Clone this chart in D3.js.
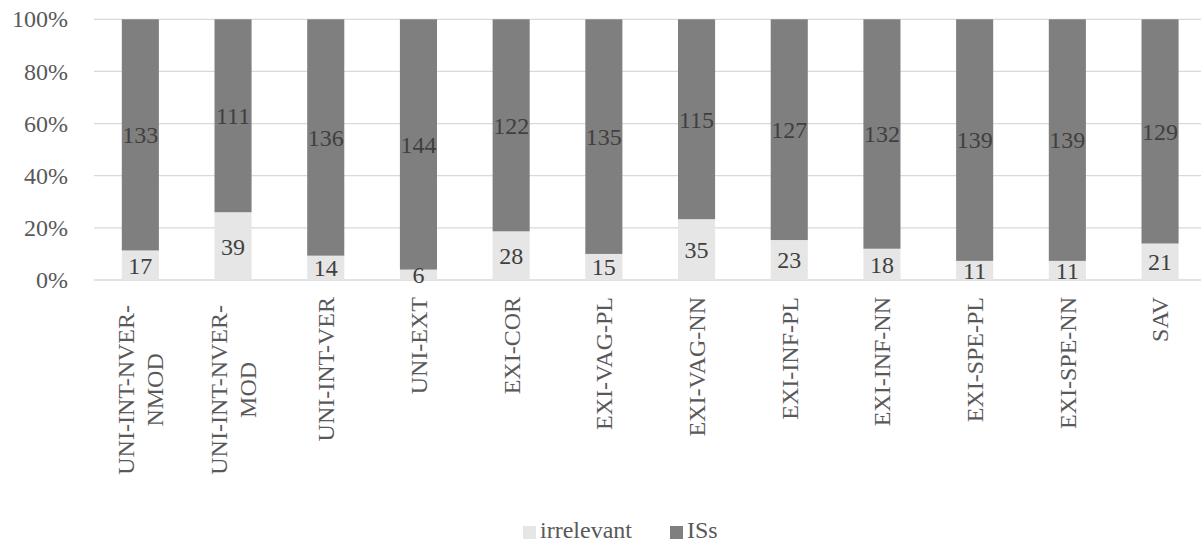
<!DOCTYPE html>
<html>
<head>
<meta charset="utf-8">
<script src="https://cdn.jsdelivr.net/npm/d3@7/dist/d3.min.js"></script>
<style>
  html, body { margin: 0; padding: 0; background: #ffffff; }
  svg, svg text { font-family: "Liberation Serif", "Times New Roman", Times, "DejaVu Serif", serif !important; }
  svg { display: block; }
</style>
</head>
<body>
<svg id="chart" width="1201" height="546"></svg>
<script>
// Category labels (each entry holds the lines of the axis label)
const categoryLines = [
  ["UNI-INT-NVER-", "NMOD"],
  ["UNI-INT-NVER-", "MOD"],
  ["UNI-INT-VER"],
  ["UNI-EXT"],
  ["EXI-COR"],
  ["EXI-VAG-PL"],
  ["EXI-VAG-NN"],
  ["EXI-INF-PL"],
  ["EXI-INF-NN"],
  ["EXI-SPE-PL"],
  ["EXI-SPE-NN"],
  ["SAV"]
];
const categories = categoryLines.map(l => l.join(""));

// Counts per category
const irrelevant = [17, 39, 14, 6, 28, 15, 35, 23, 18, 11, 11, 21];
const iss        = [133, 111, 136, 144, 122, 135, 115, 127, 132, 139, 139, 129];

const seriesNames = ["irrelevant", "ISs"];
const seriesColors = ["#e7e6e6", "#7f7f7f"];
const yTicks = [0, 0.2, 0.4, 0.6, 0.8, 1.0];

const svg = d3.select("#chart");

const plot = { left: 94, right: 1206.4, top: 19.3, bottom: 280 };

const x = d3.scaleBand()
  .domain(categories)
  .range([plot.left, plot.right])
  .paddingInner(0.6)
  .paddingOuter(0.3);

const y = d3.scaleLinear()
  .domain([0, 1])
  .range([plot.bottom, plot.top]);

// Build 100% stacked rows
const rows = categories.map((c, i) => ({
  cat: c, irrelevant: irrelevant[i], ISs: iss[i]
}));
const layers = d3.stack()
  .keys(seriesNames)
  .offset(d3.stackOffsetExpand)(rows);

// Gridlines
svg.append("g")
  .selectAll("line")
  .data(yTicks)
  .join("line")
  .attr("x1", plot.left)
  .attr("x2", plot.right)
  .attr("y1", d => y(d))
  .attr("y2", d => y(d))
  .attr("stroke", "#d9d9d9")
  .attr("stroke-width", 1.3);

// Y axis tick labels
const yAxis = d3.axisLeft(y).tickValues(yTicks).tickFormat(d3.format(".0%")).tickSize(0).tickPadding(0);
const yAxisG = svg.append("g")
  .attr("transform", `translate(68,0)`)
  .call(yAxis)
  .attr("font-family", null)
  .attr("font-size", null);
yAxisG.select(".domain").remove();
yAxisG.selectAll("text")
  .attr("font-size", 24)
  .attr("fill", "#595959")
  .attr("dy", "0.32em");

// Stacked bars
const layerG = svg.append("g")
  .selectAll("g")
  .data(layers)
  .join("g")
  .attr("fill", (d, i) => seriesColors[i]);

layerG.selectAll("rect")
  .data(d => d)
  .join("rect")
  .attr("x", d => x(d.data.cat))
  .attr("width", x.bandwidth())
  .attr("y", d => y(d[1]))
  .attr("height", d => y(d[0]) - y(d[1]));

// Value labels centred in each segment
layers.forEach(layer => {
  svg.append("g")
    .selectAll("text")
    .data(layer)
    .join("text")
    .attr("x", d => x(d.data.cat) + x.bandwidth() / 2)
    .attr("y", d => (y(d[0]) + y(d[1])) / 2)
    .attr("dy", "0.35em")
    .attr("text-anchor", "middle")
    .attr("font-size", 24)
    .attr("fill", "#404040")
    .text(d => d.data[layer.key]);
});

// Rotated category labels
const lineGap = 29;
const fs = 24;
const measurer = svg.append("text").attr("font-size", fs).attr("visibility", "hidden");
function textLen(s) { measurer.text(s); return measurer.node().getComputedTextLength(); }

const xLabelG = svg.append("g");
categoryLines.forEach((lines, i) => {
  const cx = x(categories[i]) + x.bandwidth() / 2;
  const labelTop = lines.length > 1 ? 305 : 297;
  const maxLen = d3.max(lines.map(textLen));
  const mid = labelTop + maxLen / 2;
  lines.forEach((ln, j) => {
    const lx = cx + (j - (lines.length - 1) / 2) * lineGap;
    xLabelG.append("text")
      .attr("transform", `translate(${lx},${mid}) rotate(-90)`)
      .attr("text-anchor", "middle")
      .attr("dy", "0.35em")
      .attr("font-size", fs)
      .attr("fill", "#595959")
      .text(ln);
  });
});
measurer.remove();

// Legend
const legendItems = [
  { name: seriesNames[0], color: seriesColors[0], sx: 523 },
  { name: seriesNames[1], color: seriesColors[1], sx: 670 }
];
const legend = svg.append("g");
legendItems.forEach(it => {
  legend.append("rect")
    .attr("x", it.sx).attr("y", 526)
    .attr("width", 13).attr("height", 13)
    .attr("fill", it.color);
  legend.append("text")
    .attr("x", it.sx + 17).attr("y", 538)
    .attr("font-size", 24)
    .attr("fill", "#595959")
    .text(it.name);
});
</script>
</body>
</html>
